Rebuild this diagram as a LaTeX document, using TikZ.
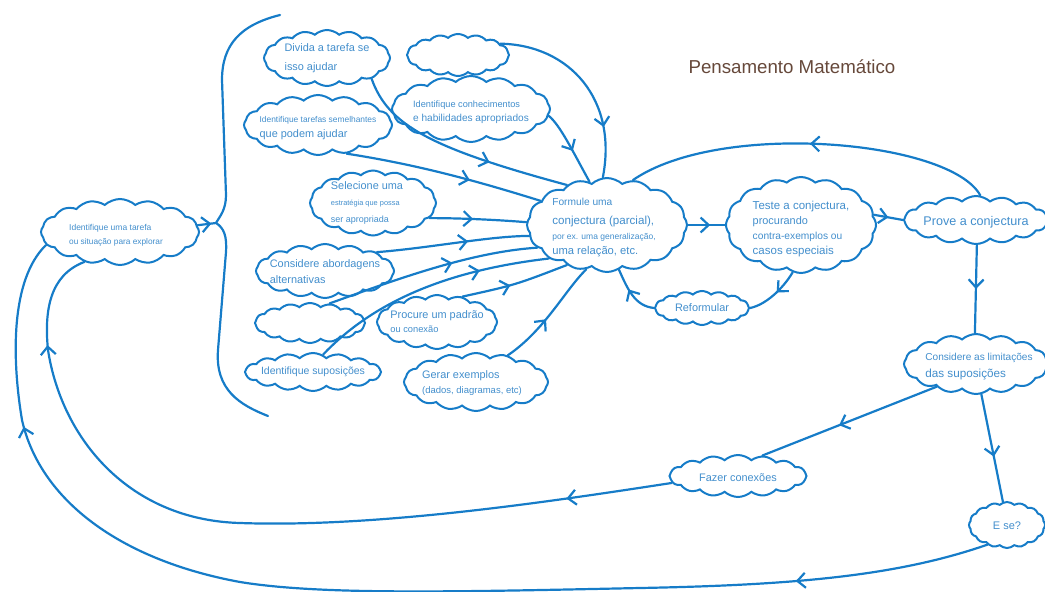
\documentclass[tikz,border=0pt]{standalone}
\usepackage{fontspec}
\setmainfont{Liberation Sans}
\usetikzlibrary{arrows.meta,shapes.symbols,decorations.markings}
\definecolor{ink}{RGB}{22,124,200}
\definecolor{inktext}{RGB}{66,142,204}
\definecolor{titlebrown}{RGB}{102,72,58}
\newcommand{\fbig}{\fontsize{10.9}{14}\selectfont}
\newcommand{\fsz}[1]{\fontsize{#1}{14}\selectfont}
\begin{document}
\begin{tikzpicture}[x=1pt,y=-1pt,
  bubble/.style 2 args={cloud,cloud puffs=16,cloud puff arc=85,cloud ignores aspect,
    draw=ink,line width=2pt,inner sep=0pt,minimum width=#1pt,minimum height=#2pt},
  txt/.style={align=left,text=inktext,font=\fbig,inner sep=0pt},
  conn/.style={ink,line width=2.2pt,line cap=round},
  arrat/.style={postaction={decorate,decoration={markings,
    mark=at position #1 with {\arrow{Straight Barb[length=8pt,width=15pt]}}}}}
]
\useasboundingbox (0,0) rectangle (1045,592);

% title
\node[text=titlebrown,font=\fsz{18.7}] (title) at (792,67) {Pensamento Matemático};

% clouds
\node[bubble={158}{66},label={[txt,xshift=-4pt,yshift=-3pt]center:{\fsz{8.5}Identifique uma tarefa\\[0pt]\fsz{8.3}ou situação para explorar}}] (task) at (120,232) {};
\node[bubble={126}{56},label={[txt]center:{Divida a tarefa se\\[5pt]isso ajudar}}] (div) at (327,58) {};
\node[bubble={148}{60},label={[txt,yshift=-3pt]center:{{\fsz{8.4}Identifique tarefas semelhantes}\\[1pt]que podem ajudar}}] (sem) at (318,125) {};
\node[bubble={102}{42}] (blanka) at (458,55) {};
\node[bubble={158}{66},label={[txt,yshift=-3pt]center:{{\fsz{9.2}Identifique conhecimentos}\\[0pt]{\fsz{10.1}e habilidades apropriados}}}] (conh) at (471,109) {};
\node[bubble={126}{65},label={[txt,xshift=-6pt]center:{Selecione uma\\[2pt]{\fsz{7.4}estratégia que possa}\\[3pt]{\fsz{9}ser apropriada}}}] (sel) at (373,203) {};
\node[bubble={138}{54},label={[txt,yshift=-1pt]center:{Considere abordagens\\[2pt]alternativas}}] (alt) at (325,271) {};
\node[bubble={110}{40}] (blankb) at (310,323) {};
\node[bubble={136}{38},label={[txt]center:{\fsz{10.5}Identifique suposições}}] (sup) at (313,372) {};
\node[bubble={120}{54},label={[txt]center:{Procure um padrão\\[0pt]{\fsz{9.3}ou conexão}}}] (pad) at (437,322) {};
\node[bubble={144}{58},label={[txt,xshift=-4pt,yshift=-1pt]center:{Gerar exemplos\\[1pt]{\fsz{9.5}(dados, diagramas, etc)}}}] (ger) at (476,382) {};
\node[bubble={160}{94},label={[txt,xshift=-3pt,yshift=-2pt]center:{{\fsz{10.2}Formule uma}\\[5pt]{\fsz{11.6}conjectura (parcial),}\\[1pt]{\fsz{8.5}por ex. uma generalização,}\\[1pt]{\fsz{11.2}uma relação, etc.}}}] (form) at (607,225) {};
\node[bubble={150}{96},label={[txt,yshift=-4pt]center:{{\fsz{11.5}Teste a conjectura,}\\[1pt]procurando\\[1pt]{\fsz{10.2}contra-exemplos ou}\\[1pt]{\fsz{11.5}casos especiais}}}] (teste) at (801,225) {};
\node[bubble={94}{34},label={[txt]center:{Reformular}}] (reform) at (702,308) {};
\node[bubble={144}{48},label={[txt,yshift=-2pt]center:{\fsz{12.6}Prove a conjectura}}] (prove) at (976,220) {};
\node[bubble={144}{60},label={[txt,xshift=3pt,yshift=-3pt]center:{{\fsz{10.1}Considere as limitações}\\[3pt]{\fsz{11.7}das suposições}}}] (lim) at (976,364) {};
\node[bubble={137}{42},label={[txt,yshift=-2pt]center:{Fazer conexões}}] (fazer) at (738,476) {};
\node[bubble={76}{46},label={[txt,yshift=-1pt]center:{\fsz{11}E se?}}] (ese) at (1007,525) {};

% brace
\coordinate (bracetip) at (216,223);
\draw[conn] (280,15) .. controls (240,25) and (222,45) .. (222,80) -- (226,195)
  .. controls (226,210) and (220,216) .. (bracetip)
  .. controls (224,228) and (227,236) .. (226,252) -- (218,350)
  .. controls (215,390) and (240,405) .. (268,416);
\draw[conn,arrat=0.75] (task.5) -- (bracetip);

% into the conjecture
\draw[conn,arrat=0.65] (div.-25) .. controls (388,125) and (430,148) .. (form.135);
\draw[conn,arrat=0.63] (sem.-45) .. controls (420,165) and (480,182) .. (form.160);
\draw[conn,arrat=0.74] (blanka.15) .. controls (570,45) and (618,100) .. (form.95);
\draw[conn,arrat=0.55] (conh.-5) .. controls (560,125) and (572,150) .. (form.112);
\draw[conn,arrat=0.45] (sel.-15) .. controls (460,218) and (500,220) .. (form.178);
\draw[conn,arrat=0.6] (alt.20) .. controls (430,248) and (490,236) .. (form.188);
\draw[conn,arrat=0.6] (blankb.45) .. controls (395,280) and (470,252) .. (form.198);
\draw[conn,arrat=0.72] (sup.60) .. controls (375,300) and (450,270) .. (form.210);
\draw[conn,arrat=0.45] (pad.45) .. controls (515,285) .. (form.225);
\draw[conn,arrat=0.45] (ger.40) .. controls (545,330) and (565,290) .. (form.245);

% test, reformulate, prove
\draw[conn,arrat=0.6] (form.east) -- (teste.west);
\draw[conn,arrat=0.5] (teste.8) -- (prove.west);
\draw[conn,arrat=0.45] (teste.-100) .. controls (782,290) and (765,305) .. (reform.east);
\draw[conn,arrat=0.6] (reform.west) .. controls (635,306) and (628,290) .. (form.-75);
\draw[conn,arrat=0.5] (prove.80) .. controls (950,140) and (720,120) .. (form.60);
\draw[conn,arrat=0.5] (prove.-88) -- (lim.92);
\draw[conn,arrat=0.58] (lim.-80) -- (ese.100);
\draw[conn,arrat=0.56] (lim.-150) -- (fazer.40);

% back to the task
\draw[conn,arrat=0.13,arrat=0.88] (fazer.186) .. controls (560,500) and (380,528) .. (240,523)
  .. controls (130,520) and (62,440) .. (48,350)
  .. controls (44,310) and (50,275) .. (task.-140);
\draw[conn,arrat=0.16,arrat=0.845] (ese.-135) .. controls (900,575) and (800,585) .. (640,588)
  .. controls (450,592) and (320,595) .. (240,582)
  .. controls (120,560) and (40,500) .. (22,420)
  .. controls (12,360) and (10,280) .. (task.-170);
\end{tikzpicture}
\end{document}
